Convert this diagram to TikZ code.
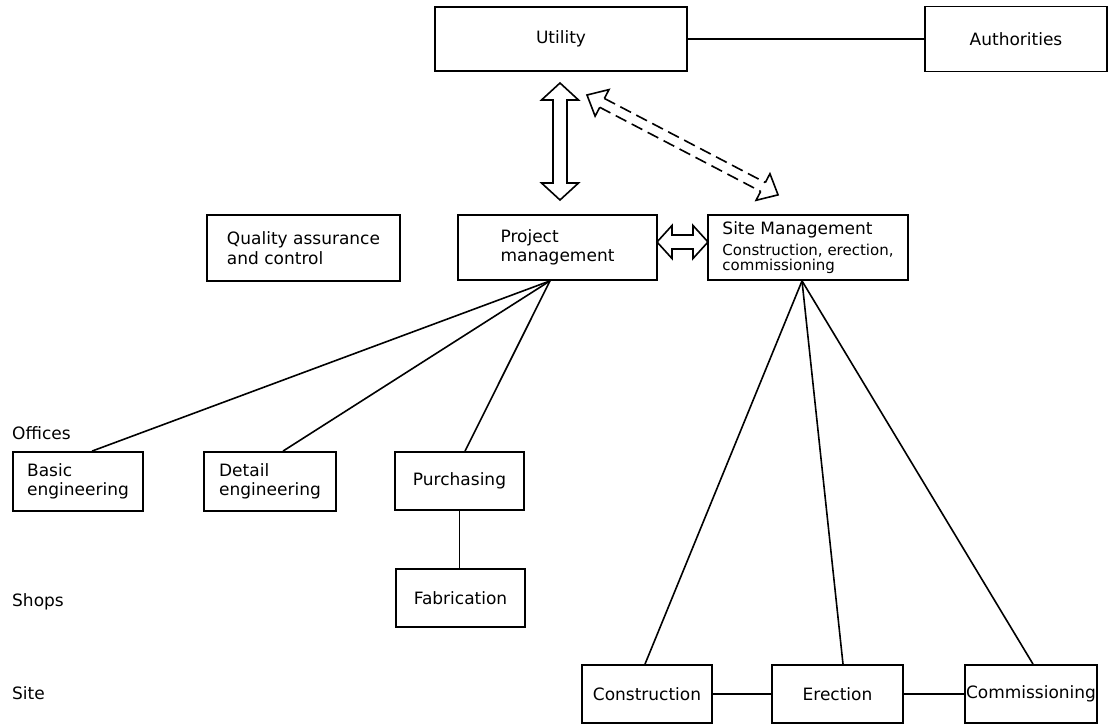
\documentclass[tikz,border=0pt]{standalone}
\usepackage{fontspec}
\setmainfont{DejaVu Sans}
\usetikzlibrary{calc}
\begin{document}
\begin{tikzpicture}[x=1pt,y=-1pt,
  every node/.style={font=\fontsize{17}{19.5}\selectfont},
  box/.style={draw, line width=1.8pt, inner sep=0pt, align=left},
  link/.style={line width=1.6pt},
  arrowline/.style={line width=1.6pt, line join=miter},
  % hollow double-headed arrow: length, head length, head half-width, shaft half-width
  pics/fatarrow/.style n args={4}{code={
    \draw[arrowline] (0,0) -- (#2,#3) -- (#2,#4) -- ({#1-#2},#4) -- ({#1-#2},#3)
      -- (#1,0) -- ({#1-#2},-#3) -- ({#1-#2},-#4) -- (#2,-#4) -- (#2,-#3) -- cycle;
  }},
  % same, with a dashed shaft
  pics/dasharrow/.style n args={4}{code={
    \draw[arrowline] (#2,#4) -- (#2,#3) -- (0,0) -- (#2,-#3) -- (#2,-#4);
    \draw[arrowline] ({#1-#2},#4) -- ({#1-#2},#3) -- (#1,0) -- ({#1-#2},-#3) -- ({#1-#2},-#4);
    \draw[arrowline, dash pattern=on 12pt off 6pt] (#2,#4) -- ({#1-#2},#4);
    \draw[arrowline, dash pattern=on 12pt off 6pt] (#2,-#4) -- ({#1-#2},-#4);
  }}
]
\fill[white] (0,0) rectangle (1110,727);
\useasboundingbox (0,0) rectangle (1110,727);

% top level
\node[box, minimum width=252pt, minimum height=64pt] (util) at (561,39) {Utility};
\node[box, minimum width=182pt, minimum height=65pt] (auth) at (1016,39) {Authorities};

% management level
\node[box, minimum width=193pt, minimum height=66pt] (qa) at (303.5,248) {Quality assurance\\and control};
\node[box, minimum width=199pt, minimum height=65pt] (pm) at (557.5,247.5) {Project\\management};
\node[box, minimum width=200pt, minimum height=65pt] (sm) at (808,247.5)
  {\raisebox{-3pt}{Site Management}\\[4pt]{\fontsize{15}{15}\selectfont Construction, erection,}\\[-4.5pt]{\fontsize{15}{15}\selectfont commissioning}};

% offices
\node[box, minimum width=130pt, minimum height=59pt] (basic) at (78,481.5) {Basic\\engineering};
\node[box, minimum width=132pt, minimum height=59pt] (detail) at (270,481.5) {Detail\\engineering};
\node[box, minimum width=129pt, minimum height=58pt] (purch) at (459.5,481) {Purchasing};

% shops
\node[box, minimum width=129pt, minimum height=58pt] (fab) at (460.5,598) {Fabrication};

% site
\node[box, minimum width=130pt, minimum height=58pt] (cons) at (647,694) {Construction};
\node[box, minimum width=131pt, minimum height=58pt] (erec) at (837.5,694) {Erection};
\node[box, minimum width=132pt, minimum height=58pt] (comm) at (1031,694) {Commissioning};

% level labels
\node[anchor=west, inner sep=0pt] (offices) at (12,433) {Offices};
\node[anchor=west, inner sep=0pt] (shops) at (12,602) {Shops};
\node[anchor=west, inner sep=0pt] (site) at (12,693) {Site};

% plain links
\draw[link] (util.east) -- (auth.west);
\draw[link] ([xshift=-7.5pt]pm.south) -- ([xshift=14pt]basic.north);
\draw[link] ([xshift=-7.5pt]pm.south) -- ([xshift=13pt]detail.north);
\draw[link] ([xshift=-7.5pt]pm.south) -- ([xshift=5.5pt]purch.north);
\draw[link] (purch.south) -- (purch.south |- fab.north);
\draw[link] ([xshift=-6pt]sm.south) -- ([xshift=-2pt]cons.north);
\draw[link] ([xshift=-6pt]sm.south) -- ([xshift=5.5pt]erec.north);
\draw[link] ([xshift=-6pt]sm.south) -- ([xshift=2pt]comm.north);
\draw[link] (cons.east) -- (erec.west);
\draw[link] (erec.east) -- (comm.west);

% hollow double arrows
\coordinate (vtop) at (560,83);
\coordinate (htail) at (657,242);
\coordinate (dtip) at (587,95);
\pic[rotate=-90] at (vtop) {fatarrow={117}{17}{18.5}{7}};
\pic at (htail) {fatarrow={51}{15}{16.5}{7}};
\pic[rotate=-27.6] at (dtip) {dasharrow={215.6}{17}{15}{5}};
\end{tikzpicture}
\end{document}
